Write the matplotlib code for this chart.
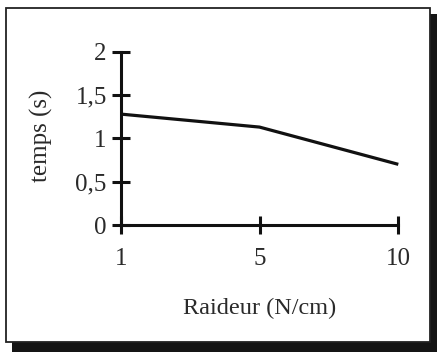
import numpy as np
import matplotlib.pyplot as plt
from matplotlib.patches import Rectangle

# data
raideur = ['1', '5', '10']
temps = [1.28, 1.13, 0.70]
yticks = [0, 0.5, 1, 1.5, 2]
ylabels = ['0', '0,5', '1', '1,5', '2']

W, H = 437, 352
fig = plt.figure(figsize=(W / 100, H / 100), dpi=100)
plt.rcParams['font.family'] = ['Liberation Serif', 'DejaVu Serif']

# frame with shadow (pixel coords -> figure fraction)
def px_rect(x0, y0, x1, y1, **kw):
    return Rectangle((x0 / W, 1 - y1 / H), (x1 - x0) / W, (y1 - y0) / H,
                     transform=fig.transFigure, zorder=0, **kw)

fig.patches.append(px_rect(12, 14, 437, 352, facecolor='#151515', edgecolor='none'))
fig.patches.append(px_rect(6, 8, 430, 342, facecolor='white', edgecolor='#222222', linewidth=1.3))

# axes box
x0, x1 = 120.7, 398.3
ytop, ybot = 51.7, 225
ax = fig.add_axes([x0 / W, 1 - ybot / H, (x1 - x0) / W, (ybot - ytop) / H])
ax.set_zorder(5)
ax.patch.set_visible(False)

pos = np.arange(len(raideur))
ax.plot(pos, temps, color='#111111', linewidth=2.3, solid_capstyle='butt', clip_on=False)

ax.set_xlim(0, 2)
ax.set_ylim(0, 2)
ax.set_xticks(pos)
ax.set_xticklabels(raideur)
ax.set_yticks(yticks)
ax.set_yticklabels(ylabels)

for s in ['top', 'right']:
    ax.spines[s].set_visible(False)
for s in ['left', 'bottom']:
    ax.spines[s].set_linewidth(2.2)
    ax.spines[s].set_color('#111111')

ax.tick_params(axis='both', direction='inout', length=13.5, width=2.2,
               color='#111111', labelsize=18, labelcolor='#2a2a2a')
ax.tick_params(axis='y', pad=3.3)
ax.tick_params(axis='x', pad=10)

ax.set_xlabel('Raideur (N/cm)', fontsize=17.5, color='#2a2a2a', labelpad=20)
ax.set_ylabel('temps (s)', fontsize=18, color='#2a2a2a')
ax.yaxis.set_label_coords(-0.245, 0.515)

fig.savefig('out.png', dpi=100)
